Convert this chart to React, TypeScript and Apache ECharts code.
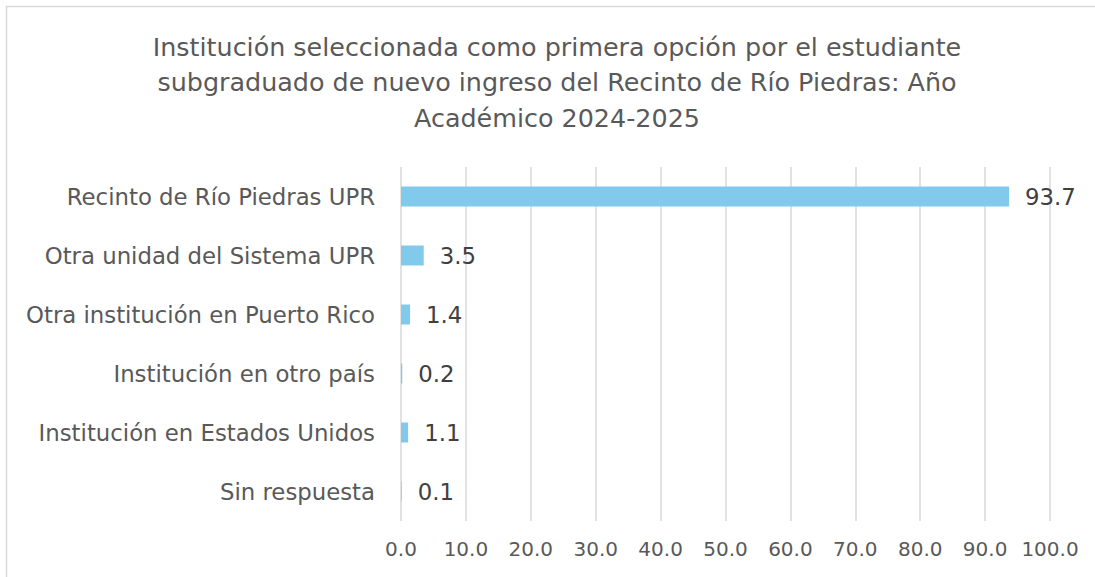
import React, { useEffect, useRef } from "react";
import * as echarts from "echarts";

const categories = [
  "Recinto de Río Piedras UPR",
  "Otra unidad del Sistema UPR",
  "Otra institución en Puerto Rico",
  "Institución en otro país",
  "Institución en Estados Unidos",
  "Sin respuesta",
];
const values = [93.7, 3.5, 1.4, 0.2, 1.1, 0.1];
const xTicks = { min: 0, max: 100, interval: 10 };
const titleText =
  "Institución seleccionada como primera opción por el estudiante\nsubgraduado de nuevo ingreso del Recinto de Río Piedras: Año\nAcadémico 2024-2025";

export default function App() {
  const ref = useRef<HTMLDivElement>(null);
  useEffect(() => {
    if (!ref.current) return;
    const chart = echarts.init(ref.current, null, { renderer: "svg" });
    const font = "'DejaVu Sans', sans-serif";
    chart.setOption({
      animation: false,
      backgroundColor: "#ffffff",
      textStyle: { fontFamily: font },
      title: {
        text: titleText,
        left: 552,
        top: 24,
        textAlign: "center",
        textStyle: {
          fontFamily: font,
          fontSize: 25.4,
          fontWeight: "normal",
          color: "#595959",
          lineHeight: 35.5,
        },
      },
      graphic: [
        {
          type: "rect",
          shape: { x: 6.5, y: 6.5, width: 1200, height: 700 },
          style: { fill: "none", stroke: "#d9d9d9", lineWidth: 1.5 },
          silent: true,
          z: 100,
        },
      ],
      grid: { left: 401, right: 45, top: 167, bottom: 56, containLabel: false },
      xAxis: {
        type: "value",
        min: xTicks.min,
        max: xTicks.max,
        interval: xTicks.interval,
        axisLine: { show: false },
        axisTick: { show: false },
        splitLine: { show: true, lineStyle: { color: "#d9d9d9", width: 1.5 } },
        axisLabel: {
          color: "#595959",
          fontSize: 20,
          fontFamily: font,
          margin: 18,
          formatter: (v: number) => v.toFixed(1),
        },
      },
      yAxis: {
        type: "category",
        data: categories,
        inverse: true,
        axisLine: { show: false },
        axisTick: { show: false },
        axisLabel: { color: "#595959", fontSize: 22.8, fontFamily: font, margin: 26 },
      },
      series: [
        {
          type: "bar",
          data: values,
          barWidth: 20,
          itemStyle: { color: "#82CAEB" },
          label: {
            show: true,
            position: "right",
            distance: 16,
            color: "#404040",
            fontSize: 22.8,
            fontFamily: font,
            formatter: (p: any) => p.value.toFixed(1),
          },
        },
      ],
    });
    return () => chart.dispose();
  }, []);
  return (
    <div
      ref={ref}
      style={{ position: "absolute", left: 0, top: 0, width: 1095, height: 577 }}
    />
  );
}
